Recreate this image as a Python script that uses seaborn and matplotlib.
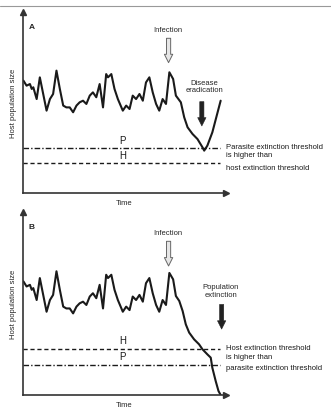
import numpy as np
import pandas as pd
import seaborn as sns
import matplotlib
matplotlib.use("Agg")
import matplotlib.pyplot as plt
from matplotlib.lines import Line2D

# ---- data (arbitrary units) ----
pre_time = [0.2, 1.8, 3.5, 4.4, 5.2, 6.9, 8.5, 10.2, 11.9, 13.6, 15.2, 16.9, 18.6,
            20.3, 21.9, 23.6, 25.3, 27.0, 28.6, 30.3, 32.0, 33.7, 35.3, 37.0, 38.7,
            40.4, 42.0, 42.9, 44.6, 46.2, 47.9, 50.4, 52.1, 53.8, 55.4, 57.1, 58.8,
            60.5, 62.1, 63.8, 65.5, 67.2, 68.8, 70.5, 72.2, 73.9]
pre_host = [62.1, 59.3, 60.2, 57.5, 58.4, 51.9, 63.9, 54.7, 45.5, 51.9, 54.7, 67.6, 57.5,
            48.3, 47.3, 47.3, 44.6, 48.3, 50.1, 51.0, 49.2, 53.8, 55.6, 52.9, 60.2,
            47.3, 65.7, 63.9, 65.7, 57.5, 51.9, 45.5, 48.3, 46.4, 53.8, 51.9, 54.7,
            51.0, 61.1, 63.9, 55.6, 49.2, 45.5, 51.9, 49.2, 66.7]

a_post_time = [75.8, 77.2, 79.7, 81.4, 83.1, 85.6, 88.1, 90.6, 91.5, 93.1, 95.6, 99.8]
a_post_host = [63.0, 53.8, 50.1, 41.8, 36.3, 32.6, 29.8, 25.3, 23.4, 26.2, 33.5, 51.0]

b_post_time = [75.8, 77.2, 78.9, 80.6, 82.2, 83.9, 86.4, 88.9, 90.6, 93.1, 94.8, 95.6, 97.3, 98.7, 99.8]
b_post_host = [63.2, 54.1, 51.4, 45.9, 38.6, 34.1, 30.4, 27.7, 25.0, 22.2, 20.4, 14.9, 7.6, 2.2, 0.0]

thr_a = {"P": 24.7, "H": 16.4}
thr_b = {"H": 25.3, "P": 16.6}

panel_labels = ["A", "B"]
right_text_a = ["Parasite extinction threshold", "is higher than", "host extinction threshold"]
right_text_b = ["Host extinction threshold", "is higher than", "parasite extinction threshold"]

sns.set_style("white")
plt.rcParams["font.family"] = ["Liberation Sans", "DejaVu Sans"]

W, H = 331, 410
fig = plt.figure(figsize=(W / 100, H / 100), dpi=100)

def px_axes(left, top, right, bottom):
    return fig.add_axes([left / W, 1 - bottom / H, (right - left) / W, (bottom - top) / H])

axA = px_axes(23, 13, 226, 194)
axB = px_axes(23, 213, 226, 396)

# page border line at top
fig.add_artist(Line2D([0, 1], [1 - 7 / H, 1 - 7 / H], color="0.6", lw=0.8, transform=fig.transFigure))

fs = 5.5
col = "#1a1a1a"

def draw_panel(ax, post_t, post_h, thr, label, rtext, y_txt):
    t = pre_time + post_t
    h = pre_host + post_h
    df = pd.DataFrame({"Time": t, "Host": h})
    sns.lineplot(data=df, x="Time", y="Host", ax=ax, color=col, lw=1.5, sort=False,
                 estimator=None)
    ax.set_xlim(0, 102.5)
    ax.set_ylim(0, 100)
    ax.set_xticks([]); ax.set_yticks([])
    for s in ["top", "right"]:
        ax.spines[s].set_visible(False)
    for s in ["left", "bottom"]:
        ax.spines[s].set_color("#333333")
        ax.spines[s].set_linewidth(1.2)
    ax.plot(1, 0, ">", color="#333333", ms=4, transform=ax.transAxes, clip_on=False)
    ax.plot(0, 1, "^", color="#333333", ms=4, transform=ax.transAxes, clip_on=False)
    ax.set_xlabel("Time", fontsize=fs, labelpad=4)
    ax.set_ylabel("Host population size", fontsize=fs, labelpad=4)
    ax.text(4.4, 92, label, fontsize=fs + 0.5, fontweight="bold", ha="center", va="center")
    for key, val in thr.items():
        ls = (0, (3, 2)) if key == "H" else (0, (4, 1.5, 1, 1.5))
        ax.plot([0, 99.5], [val, val], color=col, lw=1.0, ls=ls)
        ax.text(50.4, val + 4.5, key, fontsize=fs + 1.5, ha="center", va="center", color=col)
    for txt, yy in zip(rtext, y_txt):
        ax.text(102.5, yy, txt, fontsize=fs, ha="left", va="center", clip_on=False, color=col)

draw_panel(axA, a_post_time, a_post_host, thr_a, "A", right_text_a, [25.6, 21.2, 14.2])
draw_panel(axB, b_post_time, b_post_host, thr_b, "B", right_text_b, [26.2, 20.9, 15.3])

hollow = dict(arrowstyle="simple,head_width=0.6,head_length=0.6,tail_width=0.3",
              fc="0.9", ec="0.4", lw=0.7)
solid = dict(arrowstyle="simple,head_width=0.6,head_length=0.6,tail_width=0.3",
             fc="#222222", ec="#222222", lw=0.4)

axA.text(73.0, 90.6, "Infection", fontsize=fs, ha="center", va="center")
axA.annotate("", xy=(73.5, 70.5), xytext=(73.5, 87.0), arrowprops=hollow)
axA.text(91.5, 59.0, "Disease\neradication", fontsize=fs, ha="center", va="center", linespacing=1.1)
axA.annotate("", xy=(90.3, 35.5), xytext=(90.3, 52.0), arrowprops=solid)

axB.text(73.0, 88.7, "Infection", fontsize=fs, ha="center", va="center")
axB.annotate("", xy=(73.5, 69.0), xytext=(73.5, 85.5), arrowprops=hollow)
axB.text(100.0, 57.2, "Population\nextinction", fontsize=fs, ha="center", va="center", linespacing=1.1, clip_on=False)
axB.annotate("", xy=(100.3, 34.5), xytext=(100.3, 51.0), arrowprops=solid, annotation_clip=False)

fig.savefig("out.png", dpi=100)
